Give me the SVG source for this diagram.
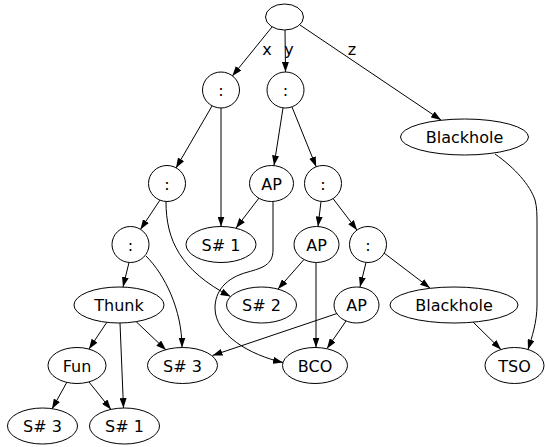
<svg xmlns="http://www.w3.org/2000/svg" width="545" height="447" viewBox="0 0 545 447">
<style>
.n ellipse{fill:#fff;stroke:#000;stroke-width:1}
.n text,.lbl{font-family:"DejaVu Sans",sans-serif;font-size:16px;fill:#000;text-anchor:middle}
#edges path{fill:none;stroke:#000;stroke-width:1;marker-end:url(#ah)}
</style>
<defs>
<marker id="ah" markerUnits="userSpaceOnUse" markerWidth="10" markerHeight="7" refX="10" refY="3.5" orient="auto">
<path d="M0,0 L10,3.5 L0,7 z" fill="#000"/>
</marker>
</defs>
<rect width="545" height="447" fill="#fff"/>
<g id="edges">
<path d="M272,27 L232.3,76"/>
<path d="M285,30 L285.5,72"/>
<path d="M300,25 L441,120"/>
<path d="M212,106 L176,168"/>
<path d="M221,108 L221,226.5"/>
<path d="M283,108 L274,165.5"/>
<path d="M292,107 L316.2,166.8"/>
<path d="M160,200 L140.4,229.5"/>
<path d="M166,201.5 C166,240 180,270 230.5,296.5"/>
<path d="M259,198 L236,228"/>
<path d="M273,201.5 L273,250 C273,265 262,268 248,272 C225,278 215,292 215,308 C215,335 250,355 283,362.5"/>
<path d="M321,201.5 L318,226.5"/>
<path d="M333,198.5 L357.1,230.2"/>
<path d="M129,262.5 L123,287"/>
<path d="M146,256 C165,275 182,310 182,347.5"/>
<path d="M304,259.5 L278,289"/>
<path d="M316,262.5 L316,347.5"/>
<path d="M366,262.5 L360,287"/>
<path d="M384,253 L430,288"/>
<path d="M107,322 L89,349"/>
<path d="M120,323 L123.5,408"/>
<path d="M136,321.5 L166,350"/>
<path d="M337,313.5 L212.5,355.5"/>
<path d="M346,321 L327,348.5"/>
<path d="M473,322 L501,349.5"/>
<path d="M495,154 C515,168 530,185 535,200 C537,207 537,215 537,225 L537,305 C537,322 532,337 528,349.5"/>
<path d="M67,382 L52,409"/>
<path d="M89,382 L111,409.5"/>
</g>
<text class="lbl" x="267" y="55">x</text>
<text class="lbl" x="289" y="55">y</text>
<text class="lbl" x="352" y="55">z</text>
<g id="root" class="n"><ellipse cx="284.5" cy="17" rx="19" ry="13"/></g>
<g id="c1" class="n"><ellipse cx="221" cy="90" rx="18.5" ry="18"/><text x="221" y="96">:</text></g>
<g id="c2" class="n"><ellipse cx="285.5" cy="90" rx="18.5" ry="18"/><text x="285.5" y="96">:</text></g>
<g id="bh1" class="n"><ellipse cx="464.5" cy="137" rx="64" ry="18"/><text x="464.5" y="143">Blackhole</text></g>
<g id="c3" class="n"><ellipse cx="167" cy="183.5" rx="18.5" ry="18"/><text x="167" y="189.5">:</text></g>
<g id="ap1" class="n"><ellipse cx="271.5" cy="183.5" rx="22" ry="18"/><text x="271.5" y="189.5">AP</text></g>
<g id="c4" class="n"><ellipse cx="323" cy="183.5" rx="18.5" ry="18"/><text x="323" y="189.5">:</text></g>
<g id="c5" class="n"><ellipse cx="130.5" cy="244.5" rx="18.5" ry="18"/><text x="130.5" y="250.5">:</text></g>
<g id="s1t" class="n"><ellipse cx="221" cy="244.5" rx="35" ry="18"/><text x="221" y="250.5">S# 1</text></g>
<g id="ap2" class="n"><ellipse cx="316.5" cy="244.5" rx="22.5" ry="18"/><text x="316.5" y="250.5">AP</text></g>
<g id="c6" class="n"><ellipse cx="368" cy="244.5" rx="18.5" ry="18"/><text x="368" y="250.5">:</text></g>
<g id="thunk" class="n"><ellipse cx="119" cy="305" rx="45" ry="18"/><text x="119" y="311">Thunk</text></g>
<g id="s2" class="n"><ellipse cx="261.5" cy="305" rx="35" ry="18"/><text x="261.5" y="311">S# 2</text></g>
<g id="ap3" class="n"><ellipse cx="356.5" cy="305" rx="22.5" ry="18"/><text x="356.5" y="311">AP</text></g>
<g id="bh2" class="n"><ellipse cx="454" cy="305" rx="64" ry="18"/><text x="454" y="311">Blackhole</text></g>
<g id="fun" class="n"><ellipse cx="77" cy="365.5" rx="29" ry="18"/><text x="77" y="371.5">Fun</text></g>
<g id="s3m" class="n"><ellipse cx="182.5" cy="365.5" rx="35" ry="18"/><text x="182.5" y="371.5">S# 3</text></g>
<g id="bco" class="n"><ellipse cx="315" cy="365.5" rx="32.5" ry="18"/><text x="315" y="371.5">BCO</text></g>
<g id="tso" class="n"><ellipse cx="514.5" cy="365.5" rx="29.5" ry="18"/><text x="514.5" y="371.5">TSO</text></g>
<g id="s3b" class="n"><ellipse cx="42.5" cy="426" rx="35" ry="18"/><text x="42.5" y="432">S# 3</text></g>
<g id="s1b" class="n"><ellipse cx="124.5" cy="426" rx="35" ry="18"/><text x="124.5" y="432">S# 1</text></g>
</svg>
